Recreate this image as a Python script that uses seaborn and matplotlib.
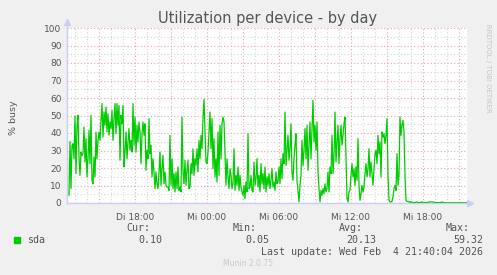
import matplotlib
matplotlib.use("Agg")
import matplotlib.pyplot as plt
import matplotlib.dates as mdates
from matplotlib.ticker import FixedLocator, MultipleLocator, FuncFormatter
import pandas as pd
import seaborn as sns

# ---------------- data (5-minute samples) ----------------
seg1 = [4.4, 35.2, 8.2, 33.0, 33.9, 25.3, 49.7, 16.8, 44.4, 50.1,
        26.3, 15.8, 29.1, 27.2, 28.2, 43.4, 23.4, 36.8, 14.9, 25.3,
        41.5, 22.5, 50.1, 13.0, 11.0, 26.3, 14.9, 40.6, 25.3, 35.8,
        40.6, 35.8, 47.2, 56.8, 37.7, 52.0, 44.4, 54.9, 40.6, 51.0,
        38.7, 46.3, 42.5, 53.0, 35.8, 48.2, 56.8, 39.6, 56.8, 44.4,
        55.8, 24.4, 50.1, 45.3, 55.8, 20.6, 29.1, 40.6, 25.3, 34.9,
        42.5, 30.1, 35.8, 29.1, 56.8, 33.0, 49.1, 29.1, 44.4, 34.9,
        46.3, 40.6, 22.5, 39.6, 46.3, 38.7, 45.3, 18.7, 30.1, 25.3,
        48.2, 28.2, 33.0, 14.9, 25.3, 17.7, 8.2, 17.7, 11.0, 8.2,
        17.7, 29.1, 10.1, 19.6, 27.2, 11.0, 17.7, 10.1, 9.1]
seg2 = [9.1, 7.2, 38.7, 10.1, 25.3, 8.2, 16.8, 6.3, 17.7, 8.2,
        20.6, 7.2, 9.1, 6.3, 49.1, 17.7, 11.0, 24.4, 10.1, 18.7,
        24.4, 8.2, 9.1, 22.5, 16.8, 31.0, 15.8, 25.3, 21.5, 31.0,
        17.7, 35.8, 25.3, 38.7, 31.0, 48.2, 59.3, 40.6, 23.4, 22.5,
        29.1, 40.6, 52.0, 31.0, 48.2, 19.6, 36.8, 14.9, 25.3, 12.0,
        40.6, 15.8, 44.4, 25.3, 45.3, 49.1, 46.3, 28.2, 10.1, 25.3,
        14.9, 8.2, 19.6, 15.8, 8.2, 11.0, 31.0, 7.2, 15.8, 10.1,
        20.6, 7.2, 15.8, 9.1, 6.3, 4.4, 10.1, 2.5, 12.0, 6.3,
        39.6, 8.2, 9.1, 15.8, 7.2, 6.3, 23.4, 10.1, 13.9, 25.3,
        9.1, 15.8, 6.3, 22.5, 11.0, 16.8, 8.2, 20.6, 6.3, 14.9]
seg3 = [10.1, 16.8, 8.2, 13.0, 19.6, 9.1, 12.0, 7.2, 17.7, 11.0,
        12.0, 20.6, 11.0, 25.3, 13.9, 28.2, 22.5, 52.0, 21.5, 30.1,
        38.7, 24.4, 31.0, 45.3, 17.7, 13.0, 25.3, 33.0, 39.6, 13.0,
        7.2, 0.6, 10.1, 15.8, 35.8, 21.5, 30.1, 42.5, 25.3, 44.4,
        18.7, 33.0, 46.3, 25.3, 42.5, 58.7, 34.9, 44.4, 30.1, 46.3,
        17.7, 8.2, 0.6, 7.2, 4.4, 8.2, 5.3, 11.0, 6.3, 8.2,
        17.7, 6.3, 20.6, 16.8, 38.7, 16.8, 27.2, 52.0, 23.4, 34.9,
        44.4, 22.5, 36.8, 44.4, 33.0, 38.7, 45.3, 49.1, 26.3, 2.5,
        0.6, 6.3, 7.2, 15.8, 22.5, 14.9, 19.6, 10.1, 20.6, 13.0,
        36.8, 10.1, 1.5, 5.3, 10.1, 6.3, 9.1, 16.8, 22.5, 14.9]
seg4 = [19.6, 31.0, 14.9, 23.4, 16.8, 10.1, 19.6, 28.2, 30.1, 22.5,
        38.7, 28.2, 34.9, 14.9, 40.6, 37.7, 39.6, 33.9, 38.7, 48.2,
        15.8, 1.5, 0.6, 0.6, 1.0, 3.4, 8.2, 10.1, 7.2, 28.2,
        10.1, 15.8, 49.1, 38.7, 44.4, 47.2, 40.6, 15.8, 1.5, 0.8,
        1.0, 0.6, 0.4, 0.8, 0.3, 0.2, 0.3, 0.2, 0.5, 0.6,
        0.2, 0.2, 0.3, 0.2, 0.7, 0.4, 0.2, 0.2, 0.3, 0.2,
        0.2, 0.6, 0.7, 0.6, 0.7, 0.5, 0.6, 0.2, 0.2, 0.3,
        0.2, 0.2, 0.2, 0.3, 0.6, 0.4, 0.1, 0.1, 0.1, 0.08,
        0.1, 0.12, 0.1, 0.05, 0.1, 0.09, 0.1, 0.1, 0.12, 0.1,
        0.1, 0.08, 0.1, 0.1, 0.1, 0.11, 0.1, 0.1, 0.1, 0.1]
busy = seg1 + seg2 + seg3 + seg4

end_time = pd.Timestamp("2026-02-04 21:40")
start_time = pd.Timestamp("2026-02-03 12:20")
times = pd.date_range(end=end_time, periods=len(busy), freq="5min")

tick_times = pd.to_datetime(["2026-02-03 18:00", "2026-02-04 00:00", "2026-02-04 06:00",
                             "2026-02-04 12:00", "2026-02-04 18:00"])
tick_labels = ["Di 18:00", "Mi 00:00", "Mi 06:00", "Mi 12:00", "Mi 18:00"]
y_ticks = list(range(0, 101, 10))

title = "Utilization per device - by day"
ylabel = "% busy"
series_name = "sda"
stat_names = ["Cur:", "Min:", "Avg:", "Max:"]
stat_values = ["0.10", "0.05", "20.13", "59.32"]
last_update = "Last update: Wed Feb  4 21:40:04 2026"
footer = "Munin 2.0.75"
side_text = "RRDTOOL / TOBI OETIKER"

# ---------------- styling ----------------
sns.set_theme(style="white")
plt.rcParams["font.family"] = ["DejaVu Sans"]

W, H = 497, 275
fig = plt.figure(figsize=(W / 100, H / 100), dpi=100, facecolor="#F0F0F0")
ax = fig.add_axes([67 / W, (H - 203) / H, 400 / W, 175 / H])
ax.set_facecolor("white")

major_c = "#E4A8A8"
minor_c = "#D4D4D4"
text_c = "#555555"

sns.lineplot(x=times, y=busy, color="#00CC00", linewidth=0.9, ax=ax, zorder=5)

ax.set_xlim(start_time, end_time)
ax.set_ylim(0, 100)

# x grid: minor every hour, major every 3 hours, labels every 6 hours
ax.xaxis.set_major_locator(mdates.HourLocator(byhour=range(0, 24, 3)))
ax.xaxis.set_minor_locator(mdates.HourLocator())
lab_map = {mdates.date2num(t): l for t, l in zip(tick_times, tick_labels)}
def fmt(x, pos):
    for k, v in lab_map.items():
        if abs(k - x) < 1e-4:
            return v
    return ""
ax.xaxis.set_major_formatter(FuncFormatter(fmt))

ax.yaxis.set_major_locator(FixedLocator(y_ticks))
ax.yaxis.set_minor_locator(MultipleLocator(5))

ax.grid(which="major", color=major_c, linestyle=(0, (1, 2)), linewidth=0.8)
ax.grid(which="minor", color=minor_c, linestyle=(0, (1, 2)), linewidth=0.8)
ax.set_axisbelow(True)

ax.tick_params(axis="both", which="major", labelsize=6.5, labelcolor=text_c,
               color=major_c, length=2, width=0.8, pad=2)
ax.tick_params(axis="both", which="minor", length=0)
ax.tick_params(axis="x", pad=5)

for s in ["top", "right"]:
    ax.spines[s].set_visible(False)
axis_c = "#CCCCF4"
for s in ["left", "bottom"]:
    ax.spines[s].set_color(axis_c)
    ax.spines[s].set_linewidth(1.0)
ax.spines["left"].set_bounds(0, 103)
ax.plot([0], [1.035], marker="^", markersize=4, color=axis_c, transform=ax.transAxes, clip_on=False)
ax.plot([1.008], [0], marker=">", markersize=4, color=axis_c, transform=ax.transAxes, clip_on=False)
ax.plot([1.0, 1.008], [0, 0], color=axis_c, lw=1, transform=ax.transAxes, clip_on=False)
ax.set_xlabel("")
ax.set_ylabel("")

# texts
fig.text(268 / W, 1 - 18 / H, title, ha="center", va="center", fontsize=10.5, color=text_c)
fig.text(14 / W, 1 - 118 / H, ylabel, ha="center", va="center", rotation=90, fontsize=6.8, color=text_c)
fig.text(488 / W, 1 - 24 / H, side_text, ha="center", va="top", rotation=270, fontsize=5, color="#C4C4C4")

mono = "DejaVu Sans Mono"
fs = 7.2
stat_right = [150, 257, 363, 470]
val_right = [162, 269, 376, 483]
for nm, xr in zip(stat_names, stat_right):
    fig.text(xr / W, 1 - 228 / H, nm, ha="right", va="center", family=mono, fontsize=fs, color=text_c)
for v, xr in zip(stat_values, val_right):
    fig.text(xr / W, 1 - 240 / H, v, ha="right", va="center", family=mono, fontsize=fs, color=text_c)
fig.patches.append(plt.Rectangle((14 / W, 1 - 243 / H), 6 / W, 6 / H, transform=fig.transFigure,
                                 color="#00CC00", figure=fig))
fig.text(27 / W, 1 - 240 / H, series_name, ha="left", va="center", family=mono, fontsize=fs, color=text_c)
fig.text(483 / W, 1 - 252 / H, last_update, ha="right", va="center", family=mono, fontsize=fs, color=text_c)
fig.text(248 / W, 1 - 264 / H, footer, ha="center", va="center", fontsize=5.5, color="#C8C8C8")

fig.savefig("out.png", dpi=100, facecolor=fig.get_facecolor())
